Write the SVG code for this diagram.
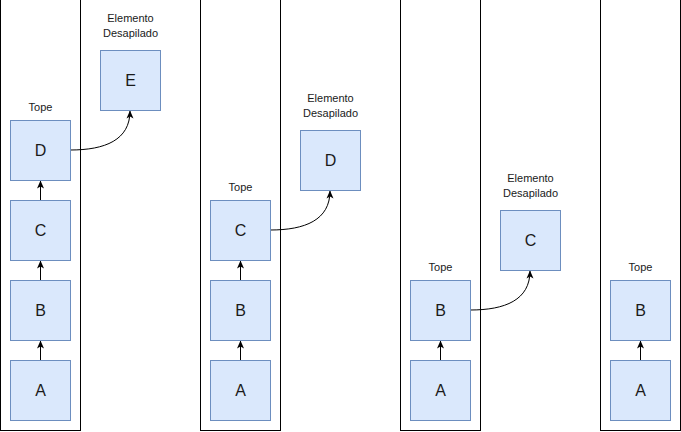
<svg xmlns="http://www.w3.org/2000/svg" width="681" height="432" viewBox="0 0 681 432">
<style>
.col{fill:#fff;stroke:#000;stroke-width:1}
.box{fill:#dae8fc;stroke:#6c8ebf;stroke-width:1}
.lbl{font-family:"Liberation Sans",Arial,sans-serif;font-size:16px;fill:#1a1a1a;text-anchor:middle}
.sm{font-family:"Liberation Sans",Arial,sans-serif;font-size:11px;fill:#1a1a1a;text-anchor:middle}
.edge{fill:none;stroke:#000;stroke-width:1}
</style>
<defs>
<marker id="arr" markerUnits="userSpaceOnUse" markerWidth="8" markerHeight="8" viewBox="0 0 8 8" refX="7.5" refY="4" orient="auto">
<path d="M0,0.5 L8,4 L0,7.5 L2,4 Z" fill="#000"/>
</marker>
</defs>
<g id="stacks">
<rect id="stack1" class="col" x="0.5" y="-10" width="80" height="440.5"/>
<rect id="stack2" class="col" x="200.5" y="-10" width="80" height="440.5"/>
<rect id="stack3" class="col" x="400.5" y="-10" width="80" height="440.5"/>
<rect id="stack4" class="col" x="600.5" y="-10" width="80" height="440.5"/>
</g>
<g id="connectors">
<path class="edge" d="M40.5,360 L40.5,341" marker-end="url(#arr)"/>
<path class="edge" d="M40.5,280 L40.5,261" marker-end="url(#arr)"/>
<path class="edge" d="M40.5,200 L40.5,181" marker-end="url(#arr)"/>
<path class="edge" d="M70.5,150 C105,150 130,140 130,111" marker-end="url(#arr)"/>
<path class="edge" d="M240.5,360 L240.5,341" marker-end="url(#arr)"/>
<path class="edge" d="M240.5,280 L240.5,261" marker-end="url(#arr)"/>
<path class="edge" d="M270.5,230 C305,230 330,220 330,191" marker-end="url(#arr)"/>
<path class="edge" d="M440.5,360 L440.5,341" marker-end="url(#arr)"/>
<path class="edge" d="M470.5,310 C505,310 530,300 530,271" marker-end="url(#arr)"/>
<path class="edge" d="M640.5,360 L640.5,341" marker-end="url(#arr)"/>
</g>
<g id="s1A"><rect class="box" x="10.5" y="360.5" width="60" height="60"/><text class="lbl" x="40.5" y="396">A</text></g>
<g id="s1B"><rect class="box" x="10.5" y="280.5" width="60" height="60"/><text class="lbl" x="40.5" y="316">B</text></g>
<g id="s1C"><rect class="box" x="10.5" y="200.5" width="60" height="60"/><text class="lbl" x="40.5" y="236">C</text></g>
<g id="s1D"><rect class="box" x="10.5" y="120.5" width="60" height="60"/><text class="lbl" x="40.5" y="156">D</text></g>
<g id="s1Tope"><text class="sm" x="40.5" y="111">Tope</text></g>
<g id="s1E"><rect class="box" x="100.5" y="50.5" width="60" height="60"/><text class="lbl" x="130.5" y="86">E</text></g>
<g id="s1Pop"><text class="sm" x="130.5" y="22">Elemento</text><text class="sm" x="130.5" y="37">Desapilado</text></g>
<g id="s2A"><rect class="box" x="210.5" y="360.5" width="60" height="60"/><text class="lbl" x="240.5" y="396">A</text></g>
<g id="s2B"><rect class="box" x="210.5" y="280.5" width="60" height="60"/><text class="lbl" x="240.5" y="316">B</text></g>
<g id="s2C"><rect class="box" x="210.5" y="200.5" width="60" height="60"/><text class="lbl" x="240.5" y="236">C</text></g>
<g id="s2Tope"><text class="sm" x="240.5" y="191">Tope</text></g>
<g id="s2D"><rect class="box" x="300.5" y="130.5" width="60" height="60"/><text class="lbl" x="330.5" y="166">D</text></g>
<g id="s2Pop"><text class="sm" x="330.5" y="102">Elemento</text><text class="sm" x="330.5" y="117">Desapilado</text></g>
<g id="s3A"><rect class="box" x="410.5" y="360.5" width="60" height="60"/><text class="lbl" x="440.5" y="396">A</text></g>
<g id="s3B"><rect class="box" x="410.5" y="280.5" width="60" height="60"/><text class="lbl" x="440.5" y="316">B</text></g>
<g id="s3Tope"><text class="sm" x="440.5" y="271">Tope</text></g>
<g id="s3C"><rect class="box" x="500.5" y="210.5" width="60" height="60"/><text class="lbl" x="530.5" y="246">C</text></g>
<g id="s3Pop"><text class="sm" x="530.5" y="182">Elemento</text><text class="sm" x="530.5" y="197">Desapilado</text></g>
<g id="s4A"><rect class="box" x="610.5" y="360.5" width="60" height="60"/><text class="lbl" x="640.5" y="396">A</text></g>
<g id="s4B"><rect class="box" x="610.5" y="280.5" width="60" height="60"/><text class="lbl" x="640.5" y="316">B</text></g>
<g id="s4Tope"><text class="sm" x="640.5" y="271">Tope</text></g>
</svg>
